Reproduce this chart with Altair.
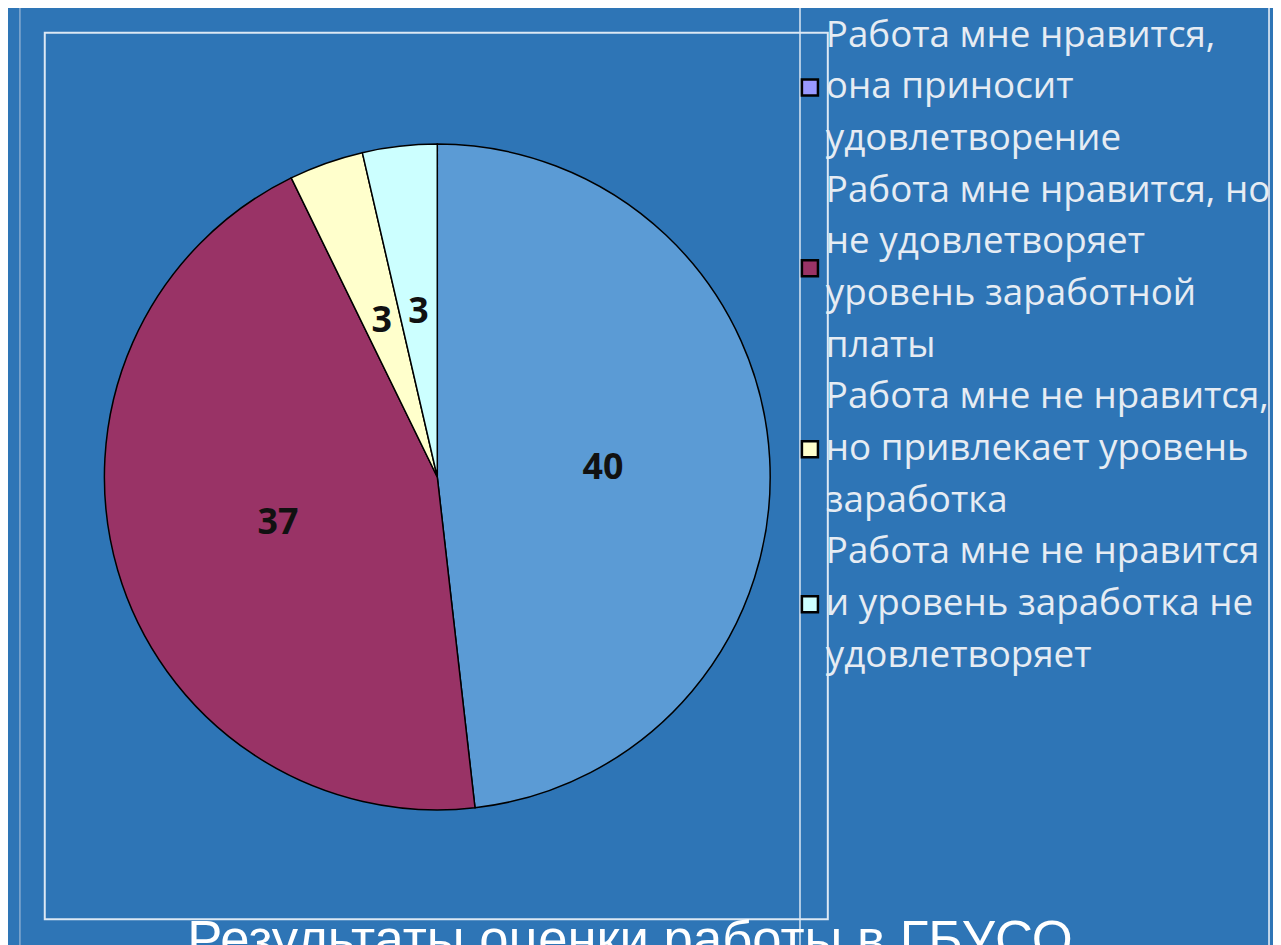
import altair as alt
import pandas as pd

# ---- data ----
categories = [
    "Работа мне нравится, она приносит удовлетворение",
    "Работа мне нравится, но не удовлетворяет уровень заработной платы",
    "Работа мне не нравится, но привлекает уровень заработка",
    "Работа мне не нравится и уровень заработка не удовлетворяет",
]
values = [40, 37, 3, 3]
slice_colors = ["#5B9BD5", "#993366", "#FFFFCC", "#CCFFFF"]
legend_colors = ["#9999FF", "#993366", "#FFFFCC", "#CCFFFF"]
legend_lines = [
    ["Работа мне нравится,", "она приносит", "удовлетворение"],
    ["Работа мне нравится, но", "не удовлетворяет", "уровень заработной", "платы"],
    ["Работа мне не нравится,", "но привлекает уровень", "заработка"],
    ["Работа мне не нравится", "и уровень заработка не", "удовлетворяет"],
]
title_text = "Результаты оценки работы в ГБУСО"

BG = "#2E75B6"
CX, CY, R = 432, 469, 335

pie_df = pd.DataFrame({
    "category": categories,
    "value": values,
    "idx": list(range(len(values))),
    "hex": slice_colors,
})

rows = []
markers = []
k = 0
for i, lines in enumerate(legend_lines):
    start = k
    for ln in lines:
        rows.append({"line": k, "txt": ln})
        k += 1
    markers.append({"pos": (start + k - 1) / 2, "hex": legend_colors[i]})
lines_df = pd.DataFrame(rows)
markers_df = pd.DataFrame(markers)
n_lines = k - 1

yscale = alt.Scale(domain=[0, n_lines], range=[25, 649])

one = pd.DataFrame({"k": [0]})

outer = alt.Chart(one).mark_rect(filled=False, stroke="#9DB8D6", strokeWidth=1.2).encode(
    x=alt.value(12), x2=alt.value(1269), y=alt.value(-5), y2=alt.value(960))
legbox = alt.Chart(one).mark_rect(filled=False, stroke="#DCE8F4", strokeWidth=1.5).encode(
    x=alt.value(797), x2=alt.value(1269), y=alt.value(-5), y2=alt.value(960))
inner = alt.Chart(one).mark_rect(filled=False, stroke="#DCE8F4", strokeWidth=2).encode(
    x=alt.value(37), x2=alt.value(825), y=alt.value(22), y2=alt.value(914))

arcs = alt.Chart(pie_df).mark_arc(outerRadius=R, stroke="black", strokeWidth=1.5).encode(
    theta=alt.Theta("value:Q", stack=True),
    order=alt.Order("idx:Q"),
    fill=alt.Fill("hex:N", scale=None),
    x=alt.value(CX), y=alt.value(CY),
)
labels = alt.Chart(pie_df).mark_text(
    radius=167, fontSize=36, fontWeight="bold", font="Open Sans", color="#111111"
).encode(
    theta=alt.Theta("value:Q", stack=True),
    order=alt.Order("idx:Q"),
    text=alt.Text("value:Q"),
    x=alt.value(CX), y=alt.value(CY),
)

leg_text = alt.Chart(lines_df).mark_text(
    align="left", baseline="middle", font="Open Sans", fontSize=37, color="#E6ECF3"
).encode(
    x=alt.value(823),
    y=alt.Y("line:Q", scale=yscale, axis=None),
    text="txt:N",
)
leg_marks = alt.Chart(markers_df).mark_square(
    size=260, stroke="black", strokeWidth=2.5, opacity=1
).encode(
    x=alt.value(807),
    y=alt.Y("pos:Q", scale=yscale, axis=None),
    fill=alt.Fill("hex:N", scale=None),
)

title = alt.Chart(pd.DataFrame({"t": [title_text]})).mark_text(
    align="center", baseline="alphabetic", font="Liberation Sans", fontSize=53, color="white"
).encode(x=alt.value(626), y=alt.value(952), text="t:N")

chart = alt.layer(outer, legbox, inner, arcs, labels, leg_text, leg_marks, title).properties(
    width=1273, height=937, padding=0, autosize="none", background=BG
).configure_view(stroke=None)

chart.save("out.html", embed_options={"renderer": "svg", "actions": False})
